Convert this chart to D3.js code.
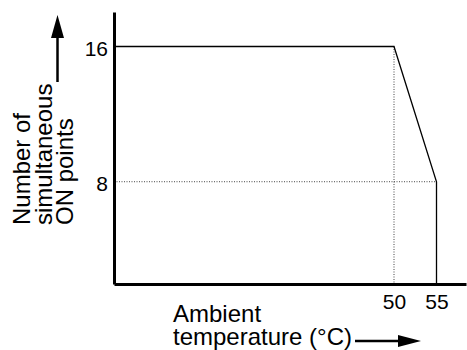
<!DOCTYPE html>
<html><head><meta charset="utf-8">
<script src="https://cdn.jsdelivr.net/npm/d3@7"></script>
<style>
body{margin:0;background:#fff;}
svg{display:block;font-family:"Liberation Sans",Arial,Helvetica,sans-serif;}
</style></head>
<body><svg id="c" width="467" height="350"></svg>
<script>
// data
const xTickValues = [50, 55];
const yTickValues = [8, 16];
const xDomain = [17.06, 58.47];
const yDomain = [1.95, 18.04];
const curveTemps = [50, 55];        // knee points (°C)
const curvePoints = [16, 8];        // simultaneous ON points
const yLabelLines = ["Number of", "simultaneous", "ON points"];
const xLabelLines = ["Ambient", "temperature (°C)"];

const svg = d3.select("#c");
const mLeft = 114, mRight = 466, mTop = 12, mBottom = 284;
const x = d3.scaleLinear().domain(xDomain).range([mLeft, mRight]);
const y = d3.scaleLinear().domain(yDomain).range([mBottom, mTop]);

// dotted guides
const g = svg.append("g");
g.append("line").attr("x1", x(xDomain[0])).attr("x2", x(curveTemps[1]))
  .attr("y1", y(curvePoints[1])).attr("y2", y(curvePoints[1]))
  .attr("stroke", "#444").attr("stroke-width", 1).attr("stroke-dasharray", "1,1.5");
g.append("line").attr("x1", x(curveTemps[0])).attr("x2", x(curveTemps[0]))
  .attr("y1", y(curvePoints[0])).attr("y2", y(yDomain[0]))
  .attr("stroke", "#444").attr("stroke-width", 1).attr("stroke-dasharray", "1,1.5");

// data line
const pts = [[xDomain[0], curvePoints[0]], [curveTemps[0], curvePoints[0]],
             [curveTemps[1], curvePoints[1]], [curveTemps[1], yDomain[0]]];
g.append("path").datum(pts)
  .attr("d", d3.line().x(d => x(d[0])).y(d => y(d[1])))
  .attr("fill", "none").attr("stroke", "#000").attr("stroke-width", 1.3);

// axes
const xAxis = svg.append("g").attr("transform", `translate(0,${mBottom})`)
  .call(d3.axisBottom(x).tickValues(xTickValues).tickSize(0).tickSizeOuter(0).tickPadding(8));
const yAxis = svg.append("g").attr("transform", `translate(${mLeft},0)`)
  .call(d3.axisLeft(y).tickValues(yTickValues).tickSize(0).tickSizeOuter(0).tickPadding(6));
[xAxis, yAxis].forEach(a => {
  a.select(".domain").attr("stroke", "#000").attr("stroke-width", 3);
  a.selectAll("text").attr("font-size", 21).attr("fill", "#000")
    .attr("font-family", "Liberation Sans, Arial, sans-serif");
});
yAxis.selectAll("text").attr("dy", "0.42em");
xAxis.selectAll("text").attr("dy", "0.8em");

// y label (rotated)
const yl = svg.append("text").attr("transform", "rotate(-90)")
  .attr("font-size", 24).attr("fill", "#000");
yLabelLines.forEach((t, i) => {
  yl.append("tspan").attr("x", -225).attr("y", 30 + i * 21.5).text(t);
});
// x label
const xl = svg.append("text").attr("font-size", 24).attr("fill", "#000");
xLabelLines.forEach((t, i) => {
  xl.append("tspan").attr("x", 173).attr("y", 322 + i * 22.5).text(t);
});

// arrows
svg.append("line").attr("x1", 57.5).attr("x2", 57.5).attr("y1", 82).attr("y2", 37)
  .attr("stroke", "#000").attr("stroke-width", 2.5);
svg.append("path").attr("d", "M51,38L64,38L57.5,15Z").attr("fill", "#000");
svg.append("line").attr("x1", 355).attr("x2", 399).attr("y1", 341).attr("y2", 341)
  .attr("stroke", "#000").attr("stroke-width", 2.5);
svg.append("path").attr("d", "M398,335L398,347L421,341Z").attr("fill", "#000");
</script></body></html>
